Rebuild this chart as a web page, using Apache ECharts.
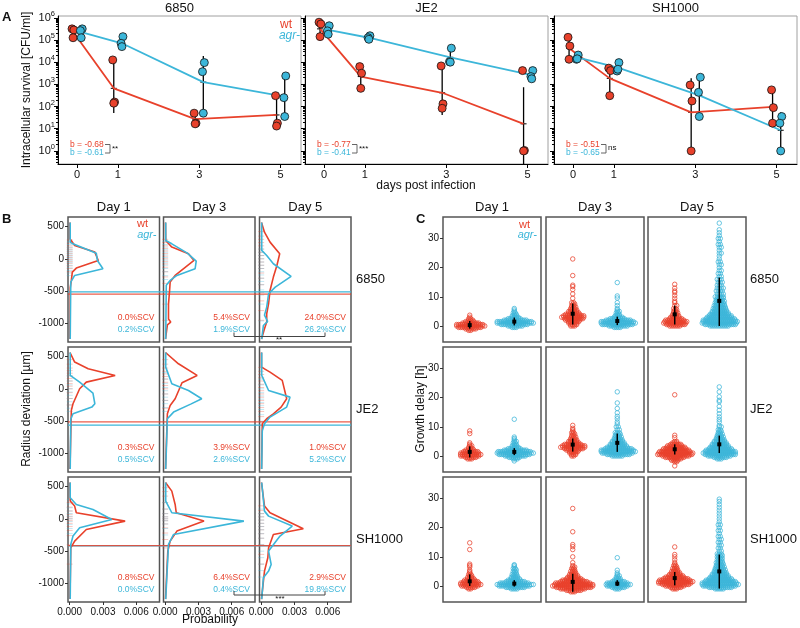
<!DOCTYPE html>
<html><head><meta charset="utf-8">
<script src="https://cdn.jsdelivr.net/npm/echarts@6/dist/echarts.min.js"></script>
<style>html,body{margin:0;padding:0;background:#fff}#c{width:800px;height:628px}</style>
</head><body><div id="c"></div>
<script>
const RED = '#E8412B', BLUE = '#3CB6D9';
const FF = '"Liberation Sans", Arial, Helvetica, sans-serif';
const strains = ['6850', 'JE2', 'SH1000'];
const daysA = [0, 1, 3, 5];
const dayTitles = ['Day 1', 'Day 3', 'Day 5'];

// ---------- Panel A: log10 intracellular survival (CFU/ml), 3 replicates per day ----------
const cfu6850Wt  = [[5.50,5.45,5.10],[4.10,2.20,2.15],[1.70,1.25,1.22],[2.49,1.25,1.12]];
const cfu6850Agr = [[5.50,5.42,5.10],[5.15,4.85,4.70],[3.98,3.57,1.70],[3.38,2.40,1.55]];
const mean6850Wt  = [5.37,2.82,1.43,1.62];
const mean6850Agr = [5.35,4.85,3.10,2.45];
const err6850Wt  = [[5.10,5.50],[1.71,4.23],[1.20,1.70],[0.95,2.49]];
const err6850Agr = [[5.10,5.50],[4.65,5.10],[1.85,4.28],[1.55,3.38]];

const cfuJE2Wt  = [[5.80,5.72,5.15],[3.80,3.50,2.82],[3.83,2.12,1.92],[3.62,0.02,0.00]];
const cfuJE2Agr = [[5.64,5.41,5.26],[5.19,5.10,5.03],[4.63,4.02,4.00],[3.62,3.35,3.25]];
const meanJE2Wt  = [5.50,3.35,2.62,1.22];
const meanJE2Agr = [5.45,5.10,4.22,3.42];
const errJE2Wt  = [[5.15,5.80],[2.80,3.87],[1.62,3.83],[-1.50,2.87]];
const errJE2Agr = [[5.26,5.64],[5.00,5.20],[4.00,4.63],[3.25,3.62]];

const cfuSHWt  = [[5.12,4.73,4.13],[3.73,3.62,2.49],[2.97,2.25,0.00],[2.75,1.95,1.25]];
const cfuSHAgr = [[4.32,4.13,4.15],[3.98,3.60,3.68],[3.32,2.64,1.55],[1.55,1.25,0.00]];
const meanSHWt  = [4.63,3.27,1.74,1.98];
const meanSHAgr = [4.22,3.75,2.50,0.93];
const errSHWt  = [[4.13,5.12],[2.52,3.87],[0.05,3.27],[1.25,2.75]];
const errSHAgr = [[4.10,4.32],[3.60,3.95],[1.65,3.38],[0.10,1.74]];

const slopeWt  = ['-0.68','-0.77','-0.51'];
const slopeAgr = ['-0.61','-0.41','-0.65'];
const slopeSig = ['**','***','ns'];
const groupShift = 0.1;            // wt drawn left of day, agr right
const pointJitter = [-0.025, 0.02, 0.0];

// ---------- Panel B: radius deviation density curves [radius (µm), probability] ----------
const dens6850D1Wt  = [[560,3e-5],[309,3e-5],[206,0.00045],[103,0.00227],[-26,0.00258],[-144,0.0006],[-206,0.00024],[-334,0.00015],[-450,5e-5],[-1240,3e-5]];
const dens6850D1Agr = [[560,5e-5],[257,5e-5],[231,0.0003],[87,0.0024],[-26,0.0025],[-154,0.003],[-257,0.00045],[-360,0.0001],[-1240,5e-5]];
const dens6850D3Wt  = [[560,3e-5],[283,5e-5],[180,0.0006],[77,0.0021],[-26,0.0026],[-257,0.0009],[-360,0.00045],[-489,0.0004],[-700,0.0003],[-930,0.0003],[-977,0.0005],[-1020,0.0002],[-1240,3e-5]];
const dens6850D3Agr = [[560,5e-5],[283,5e-5],[231,0.0006],[87,0.002],[-36,0.0028],[-154,0.0027],[-257,0.00106],[-334,0.00045],[-410,0.0001],[-1240,5e-5]];
const dens6850D5Wt  = [[560,3e-5],[411,0.0003],[257,0.0008],[77,0.00167],[-103,0.00142],[-283,0.0011],[-489,0.0008],[-694,0.00067],[-849,0.0005],[-977,0.0005],[-1080,0.0003],[-1240,3e-5]];
const dens6850D5Agr = [[560,5e-5],[129,5e-5],[51,0.0005],[-77,0.0011],[-273,0.0027],[-437,0.00127],[-540,0.00067],[-746,0.0005],[-870,0.0003],[-967,0.00058],[-1030,0.0002],[-1240,5e-5]];
const densJE2D1Wt   = [[560,3e-5],[412,0.00045],[309,0.00167],[206,0.0041],[103,0.0015],[0,0.0009],[-231,0.0003],[-334,0.00015],[-1240,3e-5]];
const densJE2D1Agr  = [[560,5e-5],[206,5e-5],[103,0.0009],[-67,0.0021],[-231,0.00227],[-283,0.002],[-386,0.0003],[-470,0.0001],[-1240,5e-5]];
const densJE2D3Wt   = [[560,3e-5],[386,0.0012],[206,0.00288],[93,0.00152],[-154,0.0009],[-257,0.00045],[-386,0.0002],[-1240,3e-5]];
const densJE2D3Agr  = [[560,5e-5],[334,5e-5],[77,0.0006],[-26,0.0021],[-154,0.0033],[-237,0.0023],[-360,0.00076],[-463,0.0002],[-1240,5e-5]];
const densJE2D5Wt   = [[560,3e-5],[334,3e-5],[257,0.0008],[129,0.0019],[-154,0.0023],[-283,0.0018],[-386,0.0011],[-463,0.0005],[-540,0.0001],[-1240,3e-5]];
const densJE2D5Agr  = [[560,5e-5],[206,5e-5],[-26,0.00067],[-129,0.0026],[-283,0.0023],[-437,0.0008],[-540,0.0003],[-650,0.0001],[-1240,5e-5]];
const densSHD1Wt    = [[560,3e-5],[273,5e-5],[196,0.00045],[93,0.0006],[-36,0.005],[-165,0.0015],[-345,0.00045],[-448,0.0001],[-1240,3e-5]];
const densSHD1Agr   = [[560,5e-5],[324,5e-5],[221,0.0006],[144,0.0021],[-10,0.0038],[-139,0.0009],[-267,0.0003],[-396,0.0001],[-1240,5e-5]];
const densSHD3Wt    = [[560,3e-5],[427,0.0006],[221,0.0009],[93,0.001],[-36,0.0035],[-190,0.00106],[-345,0.00045],[-499,0.00024],[-1240,3e-5]];
const densSHD3Agr   = [[560,5e-5],[273,5e-5],[93,0.0006],[-36,0.0071],[-242,0.00076],[-396,0.0003],[-1240,5e-5]];
const densSHD5Wt    = [[560,3e-5],[196,0.0003],[93,0.0008],[-154,0.0038],[-242,0.0011],[-448,0.00067],[-602,0.0006],[-808,0.0003],[-1240,3e-5]];
const densSHD5Agr   = [[560,5e-5],[118,0.0003],[41,0.00067],[-113,0.0028],[-267,0.0017],[-499,0.00067],[-705,0.0009],[-808,0.00067],[-911,0.0002],[-1240,5e-5]];
// rug marks: individual colony radius deviations (µm)
const rug6850D1Wt  = [290,240,200,170,140,110,80,50,20,-10,-40,-70,-110,-150,-200];
const rug6850D1Agr = [260,220,180,150,120,90,60,30,0,-30,-60,-100,-140,-180,-220,-260];
const rug6850D3Wt  = [300,250,200,160,120,80,40,0,-40,-80,-130,-200,-280,-380,-500,-700,-950];
const rug6850D3Agr = [270,220,180,140,100,60,20,-20,-60,-100,-150,-200,-260,-320];
const rug6850D5Wt  = [420,350,300,250,200,150,100,50,0,-50,-100,-150,-220,-300,-400,-520,-650,-800,-950];
const rug6850D5Agr = [150,100,50,0,-50,-100,-150,-200,-250,-300,-350,-400,-480,-560,-700,-960];
const rugJE2D1Wt   = [450,380,320,280,240,200,160,120,80,40,0,-60,-150,-250];
const rugJE2D1Agr  = [200,120,60,0,-50,-100,-150,-200,-250,-300,-350];
const rugJE2D3Wt   = [450,380,320,270,230,190,150,100,50,0,-80,-180,-300];
const rugJE2D3Agr  = [250,150,80,20,-30,-80,-130,-180,-230,-290,-350];
const rugJE2D5Wt   = [330,270,220,170,120,70,20,-30,-80,-130,-180,-230,-290,-350,-430];
const rugJE2D5Agr  = [150,60,0,-60,-110,-160,-210,-260,-320,-400,-500];
const rugSHD1Wt    = [250,180,120,70,30,0,-30,-70,-120,-180,-260,-400,-700];
const rugSHD1Agr   = [300,230,170,120,80,40,0,-40,-90,-150,-230];
const rugSHD3Wt    = [480,420,350,250,150,80,30,0,-30,-80,-140,-220,-320,-450];
const rugSHD3Agr   = [250,150,80,30,0,-30,-80,-150,-250];
const rugSHD5Wt    = [200,130,80,30,-20,-70,-120,-170,-230,-300,-400,-550,-700];
const rugSHD5Agr   = [150,80,30,-20,-70,-120,-170,-230,-300,-400,-500,-600,-700,-800,-900];
const scvThreshWt  = [-545, -510, -415];
const scvThreshAgr = [-510, -562, -418];
const scvWt  = [['0.0','5.4','24.0'],['0.3','3.9','1.0'],['0.8','6.4','2.9']];
const scvAgr = [['0.2','1.9','26.2'],['0.5','2.6','5.2'],['0.0','0.4','19.8']];
const radiusTicks = [500, 0, -500, -1000];
const probTicks = [0, 0.003, 0.006];

// ---------- Panel C: growth delay (h) swarm profiles [value, number of colonies at that value] ----------
const swarm6850D1Wt  = [[-1.5,2],[-1,6],[-0.5,12],[0,15],[0.5,14],[1,9],[1.5,5],[2,3],[2.5,2],[3,1],[3.7,1]];
const swarm6850D1Agr = [[-0.5,3],[0,8],[0.5,14],[1,19],[1.5,18],[2,12],[2.5,7],[3,4],[3.5,3],[4,2],[4.5,2],[5,1],[5.5,1],[6,1]];
const swarm6850D3Wt  = [[0,3],[0.5,4],[1,5],[1.5,6],[2,8],[2.5,10],[3,12],[3.5,11],[4,8],[4.5,6],[5,5],[5.5,4],[6,3],[6.5,3],[7,2],[7.5,2],[8,2],[9.5,1],[11,1],[12.5,1],[13.5,1],[14,1],[17.3,1],[23,1]];
const swarm6850D3Agr = [[-0.5,4],[0,10],[0.5,16],[1,18],[1.5,17],[2,13],[2.5,8],[3,5],[3.5,3],[4,2],[4.5,2],[5,2],[5.5,1],[6,1],[7,1],[8,1],[9.6,1],[10.3,1],[14.9,1]];
const swarm6850D5Wt  = [[0,6],[0.5,10],[1,12],[1.5,12],[2,10],[2.5,7],[3,5],[3.5,4],[4,3],[4.5,3],[5,2],[5.5,2],[6,2],[7,2],[8,1],[8.5,1],[9.5,1],[10.5,1],[11.5,1],[12,1],[13,1],[14.3,1]];
const swarm6850D5Agr = [[0,10],[0.5,16],[1,18],[1.5,18],[2,17],[2.5,15],[3,13],[3.5,12],[4,10],[4.5,9],[5,8],[5.5,7],[6,7],[6.5,6],[7,6],[7.5,5],[8,5],[8.5,5],[9,4],[9.5,4],[10,5],[11,4],[12,4],[13,4],[14,3],[15,3],[16,3],[17,2],[18,2],[19,2],[20,1],[21,2],[22,2],[23,1],[24,1],[25,2],[26,1],[27,2],[28,2],[29,1],[30,2],[31,1],[32,1],[33,1],[35.3,1]];
const swarmJE2D1Wt   = [[-1,3],[-0.5,6],[0,10],[0.5,11],[1,10],[1.5,8],[2,5],[2.5,3],[3,2],[3.5,2],[4,1],[4.5,1],[7.7,1],[8.6,1]];
const swarmJE2D1Agr  = [[-1.7,1],[-1,3],[-0.5,6],[0,11],[0.5,16],[1,19],[1.5,17],[2,12],[2.5,7],[3,4],[3.5,3],[4,2],[4.5,2],[5,2],[5.5,1],[6,1],[6.5,1],[12.6,1]];
const swarmJE2D3Wt   = [[0,2],[0.5,3],[1,4],[1.5,5],[2,7],[2.5,10],[3,13],[3.5,12],[4,9],[4.5,6],[5,5],[5.5,4],[6,3],[6.5,3],[7,2],[7.5,2],[8,2],[8.5,1],[9,1],[9.5,1],[10.5,1]];
const swarmJE2D3Agr  = [[0,6],[0.5,12],[1,16],[1.5,18],[2,17],[2.5,14],[3,11],[3.5,9],[4,8],[4.5,7],[5,6],[5.5,5],[6,4],[6.5,4],[7,3],[7.5,3],[8,3],[9,2],[10,2],[11,1],[11.7,1],[12.8,1],[13.6,1],[14.8,1],[16.3,1],[18.2,1],[22,1]];
const swarmJE2D5Wt   = [[-3.4,1],[-2,2],[-1.5,4],[-1,6],[-0.5,10],[0,14],[0.5,18],[1,18],[1.5,16],[2,14],[2.5,12],[3,10],[3.5,8],[4,6],[4.5,3],[5,2],[6.3,1],[7.1,1],[21,1]];
const swarmJE2D5Agr  = [[-1,3],[-0.5,7],[0,12],[0.5,16],[1,17],[1.5,16],[2,14],[2.5,12],[3,10],[3.5,9],[4,8],[4.5,7],[5,6],[5.5,5],[6,4],[6.5,4],[7,3],[7.5,3],[8,2],[8.5,2],[9,2],[10,2],[10.5,1],[11.7,1],[12.5,1],[13.4,1],[14.5,1],[15.7,1],[17,1],[18.6,1],[19.1,1],[20.3,1],[22,1],[23.7,1]];
const swarmSHD1Wt    = [[-1,2],[-0.5,5],[0,9],[0.5,11],[1,10],[1.5,8],[2,6],[2.5,4],[3,3],[3.5,2],[4,2],[4.5,1],[5,1],[5.5,1],[6.5,1],[7,1],[7.5,1],[12.5,1],[14.8,1]];
const swarmSHD1Agr   = [[-1,4],[-0.5,10],[0,16],[0.5,19],[1,15],[1.5,10],[2,7],[2.5,5],[3,4],[3.5,3],[4,3],[4.5,2],[5,2],[5.5,2],[6,2],[6.5,1],[7,1],[7.3,1]];
const swarmSHD3Wt    = [[-2,3],[-1.5,8],[-1,13],[-0.5,18],[0,21],[0.5,20],[1,18],[1.5,14],[2,11],[2.5,8],[3,6],[3.5,5],[4,4],[4.5,3],[5,3],[5.5,2],[6,2],[6.5,2],[7,1],[8,1],[10,1],[12.5,1],[13.5,1],[14.2,1],[18.6,1],[26.6,1]];
const swarmSHD3Agr   = [[-1,3],[-0.5,7],[0,11],[0.5,13],[1,11],[1.5,7],[2,4],[2.5,3],[3,2],[3.5,2],[4,1],[4.5,1],[5.4,1],[9.7,1]];
const swarmSHD5Wt    = [[-1,3],[-0.5,6],[0,10],[0.5,14],[1,17],[1.5,18],[2,16],[2.5,13],[3,10],[3.5,8],[4,6],[4.5,5],[5,4],[5.5,3],[6,3],[6.5,2],[7,2],[7.5,1],[8,1],[9,1],[10,1],[10.8,1],[13.4,1]];
const swarmSHD5Agr   = [[-1,5],[-0.5,12],[0,17],[0.5,19],[1,18],[1.5,16],[2,14],[2.5,12],[3,10],[3.5,9],[4,8],[4.5,7],[5,6],[5.5,6],[6,5],[6.5,5],[7,4],[7.5,4],[8,4],[8.5,3],[9,3],[9.5,3],[10,3],[10.5,3],[11,3],[12,2],[13,2],[14,2],[15,2],[16,2],[17,2],[18,1],[19,2],[20,1],[21,2],[22,1],[23,1],[24,1],[25,1],[26,1],[27,1],[28,1],[29,1],[29.8,1]];
// [mean, lower, upper] per Day1 wt, Day1 agr, Day3 wt, Day3 agr, Day5 wt, Day5 agr
const delayStats6850 = [[0.3,-0.9,1.7],[1.5,0.2,2.9],[4.2,0.5,7.7],[1.7,0.3,3.2],[4.0,0.5,7.0],[8.6,0.0,16.6]];
const delayStatsJE2  = [[1.4,-0.5,3.3],[1.4,0.3,2.7],[3.9,1.5,6.0],[4.5,1.4,7.7],[2.3,0.5,4.0],[4.0,1.0,7.0]];
const delayStatsSH   = [[1.6,0.0,4.0],[0.8,-0.2,2.0],[1.4,-2.0,4.2],[0.8,0.0,2.0],[2.7,0.2,4.8],[5.0,-0.9,10.8]];
const delayTicks = [0, 10, 20, 30];

// ================= build =================
const grids = [], xAxes = [], yAxes = [], series = [], gfx = [];
const NOLINE = {show:false, onZero:false};
function addGrid(g){ grids.push(Object.assign({outerBoundsMode:'none', containLabel:false}, g)); return grids.length-1; }
function addX(a){ xAxes.push(Object.assign({position:'bottom'}, a)); return xAxes.length-1; }
function addY(a){ yAxes.push(Object.assign({position:'left'}, a)); return yAxes.length-1; }
function txt(text, x, y, o){
  o = o || {};
  gfx.push({type:'text', x, y, rotation:o.rot||0, silent:true, z:100,
    style:{text, fill:o.fill||'#111', fontSize:o.size||12, fontFamily:FF, fontWeight:o.bold?'bold':'normal',
      fontStyle:o.italic?'italic':'normal', align:o.align||'center', verticalAlign:o.va||'middle'}});
}
function poly(points, o){
  o = o || {};
  gfx.push({type:'polyline', silent:true, z:100, shape:{points}, style:{stroke:o.stroke||'#333', lineWidth:o.lw||1, fill:null}});
}
function statSeries(xi, yi, data, opt){
  return {type:'custom', xAxisIndex:xi, yAxisIndex:yi, clip:true, z:opt.z||3, silent:true, data,
    renderItem:(p, api)=>{
      const x = api.value(0), lo = api.value(1), hi = api.value(2), m = api.value(3);
      const a = api.coord([x, lo]), b = api.coord([x, hi]), c = api.coord([x, m]);
      const ch = [{type:'line', shape:{x1:a[0],y1:a[1],x2:b[0],y2:b[1]}, style:{stroke:'#000', lineWidth:opt.lw}}];
      if (opt.tick) ch.push({type:'line', shape:{x1:c[0]-opt.tick,y1:c[1],x2:c[0]+opt.tick,y2:c[1]}, style:{stroke:'#000', lineWidth:1}});
      if (opt.dot) ch.push({type:'rect', shape:{x:c[0]-opt.dot/2,y:c[1]-opt.dot/2,width:opt.dot,height:opt.dot}, style:{fill:'#000'}});
      return {type:'group', children:ch};
    }};
}

// ---------- Panel A ----------
const aSets = [
  {wt:cfu6850Wt, agr:cfu6850Agr, mWt:mean6850Wt, mAgr:mean6850Agr, eWt:err6850Wt, eAgr:err6850Agr},
  {wt:cfuJE2Wt, agr:cfuJE2Agr, mWt:meanJE2Wt, mAgr:meanJE2Agr, eWt:errJE2Wt, eAgr:errJE2Agr},
  {wt:cfuSHWt, agr:cfuSHAgr, mWt:meanSHWt, mAgr:meanSHAgr, eWt:errSHWt, eAgr:errSHAgr}
];
const aLeft = [58, 305, 554], aTop = 16, aW = 243, aH = 148;
const logMajor = [0,1,2,3,4,5,6];
const logMinor = [];
for (let n = -1; n < 6; n++) for (let k = 2; k <= 9; k++) { const v = n + Math.log10(k); if (v > -0.59 && v < 6.08) logMinor.push(v); }
aSets.forEach((s, i) => {
  const gi = addGrid({left:aLeft[i], top:aTop, width:aW, height:aH, show:true, borderColor:'#a0a0a0', borderWidth:1});
  const xi = addX({type:'value', gridIndex:gi, min:-0.47, max:5.5,
    axisLine:{show:true, onZero:false, lineStyle:{color:'#000', width:1}},
    axisTick:{show:true, length:4, customValues:daysA, lineStyle:{color:'#000'}},
    axisLabel:{show:true, customValues:daysA, fontSize:11, color:'#111', margin:5, fontFamily:FF},
    splitLine:{show:false}});
  const yi = addY({type:'value', gridIndex:gi, min:-0.59, max:6.08,
    axisLine:{show:true, onZero:false, lineStyle:{color:'#000', width:1}},
    axisTick:{show:true, length:4, customValues:logMajor, lineStyle:{color:'#000'}},
    axisLabel:{show:i===0, customValues:logMajor, fontSize:11, lineHeight:16, color:'#111', margin:3, fontFamily:FF,
      formatter:v=>'10{s|'+Math.round(v)+'}', rich:{s:{fontSize:7.5, lineHeight:8, verticalAlign:'top', fontFamily:FF, color:'#111'}}},
    splitLine:{show:false}});
  addY({type:'value', gridIndex:gi, min:-0.59, max:6.08, position:'left', offset:0,
    axisLine:NOLINE, axisLabel:{show:false}, splitLine:{show:false},
    axisTick:{show:true, length:2, customValues:logMinor, lineStyle:{color:'#000'}}});
  const wtX = daysA.map(d => d - groupShift), agX = daysA.map(d => d + groupShift);
  series.push(statSeries(xi, yi, s.eWt.map((e,k)=>[wtX[k], e[0], e[1], s.mWt[k]]), {lw:1.3, tick:3, z:2}));
  series.push(statSeries(xi, yi, s.eAgr.map((e,k)=>[agX[k], e[0], e[1], s.mAgr[k]]), {lw:1.3, tick:3, z:2}));
  series.push({type:'line', xAxisIndex:xi, yAxisIndex:yi, data:s.mWt.map((m,k)=>[wtX[k], m]), symbol:'none', z:3,
    lineStyle:{color:RED, width:1.8}, silent:true});
  series.push({type:'line', xAxisIndex:xi, yAxisIndex:yi, data:s.mAgr.map((m,k)=>[agX[k], m]), symbol:'none', z:3,
    lineStyle:{color:BLUE, width:1.8}, silent:true});
  const ptsWt = [], ptsAgr = [];
  s.wt.forEach((reps,k)=>reps.forEach((v,j)=>ptsWt.push([wtX[k]+pointJitter[j], v])));
  s.agr.forEach((reps,k)=>reps.forEach((v,j)=>ptsAgr.push([agX[k]-pointJitter[j], v])));
  series.push({type:'scatter', xAxisIndex:xi, yAxisIndex:yi, data:ptsWt, symbolSize:8, z:5, silent:true,
    itemStyle:{color:RED, borderColor:'#111', borderWidth:0.8, opacity:1}});
  series.push({type:'scatter', xAxisIndex:xi, yAxisIndex:yi, data:ptsAgr, symbolSize:8, z:5, silent:true,
    itemStyle:{color:BLUE, borderColor:'#111', borderWidth:0.8, opacity:1}});
  txt(strains[i], aLeft[i] + aW/2, 8, {size:13});
  const bx = aLeft[i] + 12, by1 = 144.5, by2 = 153;
  txt('b = ' + slopeWt[i], bx, by1, {size:8.5, fill:RED, align:'left'});
  txt('b = ' + slopeAgr[i], bx, by2, {size:8.5, fill:BLUE, align:'left'});
  const ex = bx + 35;
  poly([[ex, by1], [ex+5, by1], [ex+5, by2], [ex, by2]], {stroke:'#555', lw:0.9});
  txt(slopeSig[i], ex + 7, (by1+by2)/2 - (slopeSig[i]==='ns'?1:0), {size:8, align:'left'});
});
txt('A', 2, 17, {size:13, bold:true, align:'left'});
txt('Intracellular survival [CFU/ml]', 27, 90, {size:12, rot:Math.PI/2});
txt('days post infection', 426, 186, {size:12});
txt('wt', 292, 24.5, {size:12, fill:RED, align:'right'});
txt('agr-', 300, 35.5, {size:12, fill:BLUE, align:'right', italic:true});

// ---------- Panel B ----------
const densWt = [[dens6850D1Wt, dens6850D3Wt, dens6850D5Wt],[densJE2D1Wt, densJE2D3Wt, densJE2D5Wt],[densSHD1Wt, densSHD3Wt, densSHD5Wt]];
const densAgr = [[dens6850D1Agr, dens6850D3Agr, dens6850D5Agr],[densJE2D1Agr, densJE2D3Agr, densJE2D5Agr],[densSHD1Agr, densSHD3Agr, densSHD5Agr]];
const rugWt = [[rug6850D1Wt, rug6850D3Wt, rug6850D5Wt],[rugJE2D1Wt, rugJE2D3Wt, rugJE2D5Wt],[rugSHD1Wt, rugSHD3Wt, rugSHD5Wt]];
const rugAgr = [[rug6850D1Agr, rug6850D3Agr, rug6850D5Agr],[rugJE2D1Agr, rugJE2D3Agr, rugJE2D5Agr],[rugSHD1Agr, rugSHD3Agr, rugSHD5Agr]];
const rowTop = [217, 347, 477], rowH = 125;
const bLeft = [68, 163.5, 259.5], bW = 91.5;
const bYmin = -1285, bYmax = 645;
for (let r = 0; r < 3; r++) {
  const gT = addGrid({left:bLeft[0], top:rowTop[r], width:bLeft[2]+bW-bLeft[0], height:rowH, show:false});
  const xT = addX({type:'value', gridIndex:gT, min:0, max:1, show:false, axisLine:NOLINE});
  const yT = addY({type:'value', gridIndex:gT, min:bYmin, max:bYmax, show:false, axisLine:NOLINE});
  series.push({type:'line', xAxisIndex:xT, yAxisIndex:yT, data:[[0, scvThreshAgr[r]],[1, scvThreshAgr[r]]], symbol:'none', z:4, silent:true, lineStyle:{color:BLUE, width:1.2}});
  series.push({type:'line', xAxisIndex:xT, yAxisIndex:yT, data:[[0, scvThreshWt[r]],[1, scvThreshWt[r]]], symbol:'none', z:4, silent:true, lineStyle:{color:RED, width:1.2, opacity:0.85}});
  for (let c = 0; c < 3; c++) {
    const gi = addGrid({left:bLeft[c], top:rowTop[r], width:bW, height:rowH, show:true, borderColor:'#555', borderWidth:1.5});
    const xi = addX({type:'value', gridIndex:gi, min:-0.00015, max:0.0081,
      axisLine:NOLINE, splitLine:{show:false},
      axisTick:{show:r===2, length:3, customValues:probTicks, lineStyle:{color:'#333'}},
      axisLabel:{show:r===2, customValues:probTicks, formatter:v=>v.toFixed(3), fontSize:10, color:'#111', margin:5, fontFamily:FF}});
    const yi = addY({type:'value', gridIndex:gi, min:bYmin, max:bYmax,
      axisLine:NOLINE, splitLine:{show:false},
      axisTick:{show:c===0, length:3, customValues:radiusTicks, lineStyle:{color:'#333'}},
      axisLabel:{show:c===0, customValues:radiusTicks, formatter:v=>String(v), fontSize:10, color:'#111', margin:4, fontFamily:FF}});
    series.push({type:'scatter', xAxisIndex:xi, yAxisIndex:yi, data:rugWt[r][c].map(v=>[0, v]), symbol:'rect', symbolSize:[6,1], z:2, silent:true,
      itemStyle:{color:RED, opacity:0.3}});
    series.push({type:'scatter', xAxisIndex:xi, yAxisIndex:yi, data:rugAgr[r][c].map(v=>[0, v]), symbol:'rect', symbolSize:[6,1], z:2, silent:true,
      itemStyle:{color:BLUE, opacity:0.3}});
    series.push({type:'line', xAxisIndex:xi, yAxisIndex:yi, data:densWt[r][c].map(p=>[p[1], p[0]]), symbol:'none', z:5, silent:true,
      lineStyle:{color:RED, width:1.6}});
    series.push({type:'line', xAxisIndex:xi, yAxisIndex:yi, data:densAgr[r][c].map(p=>[p[1], p[0]]), symbol:'none', z:6, silent:true,
      lineStyle:{color:BLUE, width:1.6}});
    const rx = bLeft[c] + bW - 5, byb = rowTop[r] + rowH;
    txt(scvWt[r][c] + '%SCV', rx, byb - 24, {size:8.5, fill:RED, align:'right'});
    txt(scvAgr[r][c] + '%SCV', rx, byb - 12, {size:8.5, fill:BLUE, align:'right'});
  }
  txt(strains[r], 356, rowTop[r] + rowH/2, {size:13, align:'left'});
}
dayTitles.forEach((d, c) => txt(d, bLeft[c] + bW/2, 207, {size:13}));
txt('B', 2, 219, {size:13, bold:true, align:'left'});
txt('wt', 148, 224, {size:11, fill:RED, align:'right'});
txt('agr-', 156.5, 234.5, {size:11, fill:BLUE, align:'right', italic:true});
txt('Radius deviation [µm]', 27, 409, {size:12, rot:Math.PI/2});
txt('Probability', 210, 620, {size:12});
poly([[234, 332.5], [234, 336.5], [325, 336.5], [325, 332.5]], {stroke:'#444', lw:1});
txt('**', 279, 340, {size:8});
poly([[234, 591], [234, 595], [325, 595], [325, 591]], {stroke:'#444', lw:1});
txt('***', 280, 598.5, {size:8});

// ---------- Panel C ----------
const swarmWt = [[swarm6850D1Wt, swarm6850D3Wt, swarm6850D5Wt],[swarmJE2D1Wt, swarmJE2D3Wt, swarmJE2D5Wt],[swarmSHD1Wt, swarmSHD3Wt, swarmSHD5Wt]];
const swarmAgr = [[swarm6850D1Agr, swarm6850D3Agr, swarm6850D5Agr],[swarmJE2D1Agr, swarmJE2D3Agr, swarmJE2D5Agr],[swarmSHD1Agr, swarmSHD3Agr, swarmSHD5Agr]];
const delayStats = [delayStats6850, delayStatsJE2, delayStatsSH];
const cLeft = [443, 546, 648], cW = 98;
const swarmDx = 0.045;
function swarmLayout(profile, center){
  const pts = [];
  profile.forEach(([v, n], ri) => {
    const shift = (n > 1 && ri % 2) ? swarmDx/2 : 0;
    for (let i = 0; i < n; i++) pts.push([center + (i - (n-1)/2) * swarmDx + shift, v]);
  });
  return pts;
}
for (let r = 0; r < 3; r++) {
  for (let c = 0; c < 3; c++) {
    const gi = addGrid({left:cLeft[c], top:rowTop[r], width:cW, height:rowH, show:true, borderColor:'#555', borderWidth:1.5});
    const xi = addX({type:'value', gridIndex:gi, min:-0.6, max:1.6, show:false, axisLine:NOLINE});
    const yi = addY({type:'value', gridIndex:gi, min:-5.5, max:37.4,
      axisLine:NOLINE, splitLine:{show:false},
      axisTick:{show:c===0, length:3, customValues:delayTicks, lineStyle:{color:'#333'}},
      axisLabel:{show:c===0, customValues:delayTicks, fontSize:10, color:'#111', margin:4, fontFamily:FF}});
    series.push({type:'scatter', xAxisIndex:xi, yAxisIndex:yi, data:swarmLayout(swarmWt[r][c], 0), symbolSize:4.5, z:3, silent:true, large:false,
      itemStyle:{color:'rgba(0,0,0,0)', borderColor:RED, borderWidth:0.9, opacity:0.85}});
    series.push({type:'scatter', xAxisIndex:xi, yAxisIndex:yi, data:swarmLayout(swarmAgr[r][c], 1), symbolSize:4.5, z:3, silent:true, large:false,
      itemStyle:{color:'rgba(0,0,0,0)', borderColor:BLUE, borderWidth:0.9, opacity:0.85}});
    const st = delayStats[r];
    series.push(statSeries(xi, yi, [[0, st[2*c][1], st[2*c][2], st[2*c][0]], [1, st[2*c+1][1], st[2*c+1][2], st[2*c+1][0]]], {lw:1.5, dot:4, z:6}));
  }
  txt(strains[r], 750, rowTop[r] + rowH/2, {size:13, align:'left'});
}
dayTitles.forEach((d, c) => txt(d, cLeft[c] + cW/2, 207, {size:13}));
txt('C', 416, 219, {size:13, bold:true, align:'left'});
txt('wt', 530, 224.5, {size:11, fill:RED, align:'right'});
txt('agr-', 537, 235, {size:11, fill:BLUE, align:'right', italic:true});
txt('Growth delay [h]', 421, 409, {size:12, rot:Math.PI/2});

const chart = echarts.init(document.getElementById('c'), null, {renderer:'canvas'});
chart.setOption({
  animation:false, backgroundColor:'#fff',
  textStyle:{fontFamily:FF},
  grid:grids, xAxis:xAxes, yAxis:yAxes, series:series,
  graphic:{elements:gfx}
});
</script></body></html>
